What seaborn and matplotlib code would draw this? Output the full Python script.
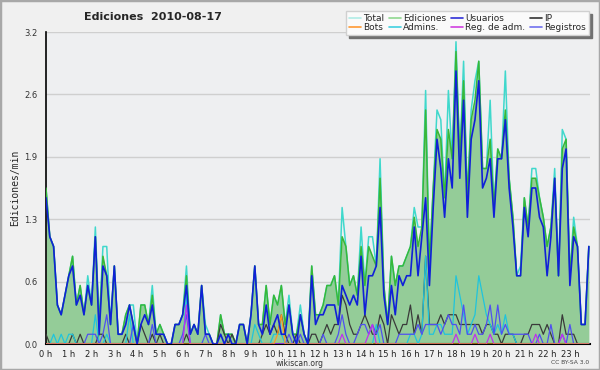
import numpy as np
import pandas as pd
import matplotlib
matplotlib.use('Agg')
import matplotlib.pyplot as plt
import seaborn as sns
from matplotlib.patches import Rectangle

# Ediciones/min, one value per 10 minutes (144 slots)
usuarios = [1.5, 1.1, 1.0, 0.4, 0.3, 0.5, 0.7, 0.8, 0.4, 0.5, 0.3, 0.6, 0.4, 1.1, 0.1, 0.8, 0.7, 0.2, 0.8, 0.1,
            0.1, 0.2, 0.4, 0.2, 0.0, 0.2, 0.3, 0.2, 0.4, 0.1, 0.1, 0.1, 0.0, 0.0, 0.2, 0.2, 0.3, 0.6, 0.1, 0.2,
            0.1, 0.6, 0.1, 0.1, 0.0, 0.0, 0.1, 0.0, 0.1, 0.0, 0.0, 0.2, 0.2, 0.0, 0.3, 0.8, 0.2, 0.1, 0.4, 0.1,
            0.2, 0.3, 0.1, 0.1, 0.4, 0.1, 0.0, 0.3, 0.1, 0.0, 0.7, 0.2, 0.3, 0.3, 0.4, 0.4, 0.4, 0.2, 0.6, 0.5,
            0.4, 0.5, 0.4, 0.9, 0.3, 0.7, 0.7, 0.8, 1.4, 0.5, 0.2, 0.6, 0.3, 0.7, 0.6, 0.7, 0.7, 1.2, 0.7, 1.1,
            1.5, 0.6, 1.4, 2.1, 1.8, 1.3, 1.9, 1.6, 2.8, 1.7, 2.5, 1.3, 2.1, 2.3, 2.7, 1.6, 1.7, 1.9, 1.3, 1.9,
            1.9, 2.3, 1.6, 1.2, 0.7, 0.7, 1.4, 1.1, 1.6, 1.6, 1.3, 1.2, 0.7, 1.1, 1.7, 0.7, 1.8, 2.0, 0.6, 1.1,
            1.0, 0.2, 0.2, 1.0]
ip = [0.1, 0.0, 0.0, 0.0, 0.0, 0.0, 0.0, 0.1, 0.0, 0.1, 0.0, 0.0, 0.0, 0.0, 0.1, 0.1, 0.0, 0.0, 0.0, 0.0,
      0.0, 0.1, 0.0, 0.0, 0.0, 0.2, 0.1, 0.0, 0.1, 0.0, 0.1, 0.0, 0.0, 0.0, 0.0, 0.0, 0.0, 0.1, 0.0, 0.0,
      0.0, 0.0, 0.0, 0.0, 0.0, 0.0, 0.2, 0.1, 0.0, 0.1, 0.0, 0.0, 0.0, 0.0, 0.0, 0.0, 0.0, 0.1, 0.2, 0.1,
      0.2, 0.1, 0.3, 0.1, 0.0, 0.0, 0.1, 0.0, 0.0, 0.0, 0.1, 0.1, 0.0, 0.1, 0.2, 0.1, 0.2, 0.2, 0.5, 0.4,
      0.2, 0.1, 0.1, 0.2, 0.3, 0.2, 0.1, 0.1, 0.3, 0.2, 0.0, 0.3, 0.2, 0.1, 0.2, 0.2, 0.4, 0.1, 0.3, 0.1,
      0.9, 0.2, 0.2, 0.2, 0.3, 0.2, 0.3, 0.3, 0.3, 0.2, 0.2, 0.2, 0.2, 0.2, 0.2, 0.1, 0.2, 0.2, 0.1, 0.1,
      0.0, 0.1, 0.1, 0.1, 0.0, 0.0, 0.1, 0.1, 0.2, 0.2, 0.2, 0.1, 0.2, 0.1, 0.0, 0.0, 0.3, 0.1, 0.1, 0.1,
      0.0, 0.0, 0.0, 0.0]
ediciones = [1.6, 1.1, 1.0, 0.4, 0.3, 0.5, 0.7, 0.9, 0.4, 0.6, 0.3, 0.6, 0.4, 1.1, 0.2, 0.9, 0.7, 0.2, 0.8, 0.1,
             0.1, 0.3, 0.4, 0.2, 0.0, 0.4, 0.4, 0.2, 0.5, 0.1, 0.2, 0.1, 0.0, 0.0, 0.2, 0.2, 0.3, 0.7, 0.1, 0.2,
             0.1, 0.6, 0.1, 0.1, 0.0, 0.0, 0.3, 0.1, 0.1, 0.1, 0.0, 0.2, 0.2, 0.0, 0.3, 0.8, 0.2, 0.2, 0.6, 0.2,
             0.5, 0.4, 0.6, 0.2, 0.4, 0.1, 0.1, 0.3, 0.1, 0.0, 0.8, 0.3, 0.3, 0.4, 0.6, 0.6, 0.7, 0.4, 1.1, 1.0,
             0.6, 0.7, 0.5, 1.0, 0.6, 1.0, 0.9, 0.8, 1.7, 0.6, 0.2, 0.9, 0.6, 0.8, 0.8, 0.9, 1.0, 1.3, 1.0, 1.2,
             2.4, 0.8, 1.6, 2.2, 2.1, 1.5, 2.2, 1.9, 3.0, 1.9, 2.7, 1.5, 2.3, 2.5, 2.9, 1.8, 1.8, 2.1, 1.4, 2.0,
             1.9, 2.4, 1.7, 1.3, 0.7, 0.7, 1.5, 1.2, 1.7, 1.7, 1.5, 1.3, 1.0, 1.2, 1.7, 0.7, 2.0, 2.1, 0.7, 1.2,
             1.0, 0.2, 0.2, 1.0]
total = [1.6, 1.1, 1.0, 0.4, 0.3, 0.5, 0.7, 0.9, 0.4, 0.6, 0.3, 0.7, 0.4, 1.2, 0.2, 1.0, 1.0, 0.2, 0.8, 0.1,
         0.1, 0.3, 0.4, 0.4, 0.0, 0.4, 0.4, 0.2, 0.6, 0.1, 0.2, 0.1, 0.0, 0.0, 0.2, 0.2, 0.3, 0.8, 0.1, 0.2,
         0.1, 0.6, 0.2, 0.1, 0.0, 0.0, 0.3, 0.1, 0.1, 0.1, 0.0, 0.2, 0.2, 0.0, 0.3, 0.8, 0.2, 0.2, 0.6, 0.2,
         0.5, 0.4, 0.6, 0.2, 0.5, 0.1, 0.1, 0.4, 0.1, 0.0, 0.8, 0.3, 0.3, 0.4, 0.6, 0.6, 0.7, 0.4, 1.4, 1.0,
         0.6, 0.7, 0.5, 1.2, 0.6, 1.1, 1.1, 0.8, 1.9, 0.6, 0.2, 0.9, 0.6, 0.8, 0.8, 0.9, 1.0, 1.4, 1.2, 1.2,
         2.6, 0.8, 1.6, 2.4, 2.3, 1.5, 2.6, 1.9, 3.1, 1.9, 2.9, 1.5, 2.4, 2.7, 2.9, 1.8, 1.8, 2.5, 1.4, 2.0,
         1.9, 2.8, 1.7, 1.3, 0.7, 0.8, 1.5, 1.2, 1.8, 1.8, 1.5, 1.3, 1.0, 1.2, 1.8, 0.7, 2.2, 2.1, 0.7, 1.3,
         1.0, 0.2, 0.2, 1.0]
admins = [0.0, 0.0, 0.1, 0.0, 0.1, 0.0, 0.1, 0.1, 0.0, 0.0, 0.0, 0.0, 0.0, 0.3, 0.0, 0.0, 0.1, 0.0, 0.0, 0.0,
          0.0, 0.0, 0.3, 0.0, 0.0, 0.0, 0.0, 0.0, 0.0, 0.0, 0.0, 0.0, 0.0, 0.0, 0.0, 0.0, 0.0, 0.5, 0.0, 0.0,
          0.0, 0.0, 0.0, 0.0, 0.0, 0.0, 0.0, 0.0, 0.0, 0.0, 0.0, 0.0, 0.0, 0.0, 0.0, 0.2, 0.1, 0.0, 0.0, 0.0,
          0.1, 0.1, 0.1, 0.0, 0.0, 0.0, 0.0, 0.0, 0.0, 0.0, 0.0, 0.0, 0.0, 0.0, 0.0, 0.0, 0.0, 0.0, 0.0, 0.0,
          0.0, 0.0, 0.0, 0.0, 0.0, 0.0, 0.0, 0.2, 0.0, 0.0, 0.0, 0.0, 0.0, 0.0, 0.0, 0.0, 0.1, 0.1, 0.0, 0.1,
          0.9, 0.1, 0.1, 0.2, 0.2, 0.1, 0.1, 0.1, 0.7, 0.5, 0.3, 0.1, 0.2, 0.3, 0.7, 0.5, 0.3, 0.2, 0.1, 0.2,
          0.1, 0.3, 0.1, 0.1, 0.0, 0.0, 0.0, 0.0, 0.0, 0.0, 0.0, 0.0, 0.0, 0.0, 0.0, 0.0, 0.0, 0.0, 0.0, 0.0,
          0.0, 0.0, 0.0, 0.0]
registros = [0.0, 0.0, 0.0, 0.0, 0.0, 0.0, 0.0, 0.0, 0.0, 0.0, 0.0, 0.1, 0.1, 0.1, 0.0, 0.1, 0.3, 0.0, 0.0, 0.0,
             0.0, 0.0, 0.0, 0.2, 0.0, 0.0, 0.0, 0.0, 0.2, 0.0, 0.0, 0.0, 0.0, 0.0, 0.0, 0.0, 0.1, 0.3, 0.0, 0.0,
             0.0, 0.0, 0.1, 0.0, 0.0, 0.0, 0.0, 0.0, 0.0, 0.0, 0.0, 0.0, 0.0, 0.0, 0.0, 0.0, 0.0, 0.0, 0.0, 0.0,
             0.0, 0.0, 0.0, 0.0, 0.1, 0.0, 0.0, 0.1, 0.0, 0.0, 0.0, 0.0, 0.0, 0.1, 0.0, 0.0, 0.0, 0.1, 0.3, 0.1,
             0.0, 0.0, 0.1, 0.2, 0.2, 0.1, 0.2, 0.1, 0.2, 0.0, 0.0, 0.0, 0.0, 0.1, 0.1, 0.1, 0.1, 0.1, 0.2, 0.1,
             0.2, 0.2, 0.2, 0.2, 0.1, 0.2, 0.3, 0.2, 0.2, 0.1, 0.4, 0.1, 0.1, 0.2, 0.1, 0.1, 0.2, 0.4, 0.1, 0.4,
             0.1, 0.2, 0.1, 0.1, 0.1, 0.1, 0.1, 0.1, 0.0, 0.0, 0.1, 0.0, 0.0, 0.2, 0.0, 0.0, 0.1, 0.0, 0.2, 0.0,
             0.0, 0.0, 0.0, 0.0]
reg_adm = [0.0] * 37 + [0.4] + [0.0] * 40 + [0.1, 0.0, 0.0, 0.0, 0.0, 0.0, 0.0, 0.1, 0.2] + [0.0] * 21 + \
          [0.1, 0.0, 0.0, 0.0, 0.0, 0.1, 0.0, 0.0, 0.0, 0.1] + [0.0] * 11 + [0.1] + [0.0] * 6 + [0.1] + [0.0] * 7
bots = [0.0] * 61 + [0.1, 0.3, 0.0] + [0.0] * 80

hour_labels = [f'{h} h' for h in range(24)]
y_ticks = [0.0, 0.64, 1.28, 1.92, 2.56, 3.2]

df = pd.DataFrame({'slot': np.arange(len(total)), 'Total': total, 'Ediciones': ediciones,
                   'Usuarios': usuarios, 'IP': ip, 'Bots': bots, 'Admins.': admins,
                   'Reg. de adm.': reg_adm, 'Registros': registros})

colors = {'Total': '#3fd8cc', 'Ediciones': '#38b838', 'Usuarios': '#1020d8', 'IP': '#3a3a3a',
          'Bots': '#ff9922', 'Admins.': '#20c4dc', 'Reg. de adm.': '#c030f0', 'Registros': '#5050f0'}
leg_colors = {'Total': '#b0ece6', 'Ediciones': '#90d890', 'Usuarios': '#3030d8', 'IP': '#333333',
              'Bots': '#ff9933', 'Admins.': '#40d0e0', 'Reg. de adm.': '#d040e0', 'Registros': '#7070ee'}

sns.set_style('white')
fig = plt.figure(figsize=(6, 3.7), dpi=100, facecolor='#f0f0f0')
ax = fig.add_axes([46 / 600, 26 / 370, 544 / 600, 312 / 370])
ax.set_facecolor('#eeeff1')

for y in y_ticks[1:]:
    ax.axhline(y, color='#cfcfcf', lw=1, zorder=0)

ax.fill_between(df['slot'], df['Ediciones'], color='#94cc98', lw=0, zorder=1)
sns.lineplot(data=df, x='slot', y='Total', color=colors['Total'], lw=1.1, ax=ax, zorder=2)
sns.lineplot(data=df, x='slot', y='Ediciones', color=colors['Ediciones'], lw=1.1, ax=ax, zorder=3)
for name in ['IP', 'Admins.', 'Registros', 'Reg. de adm.', 'Bots']:
    sns.lineplot(data=df, x='slot', y=name, color=colors[name], lw=0.9, ax=ax, zorder=4)
sns.lineplot(data=df, x='slot', y='Usuarios', color=colors['Usuarios'], lw=1.2, ax=ax, zorder=5)

ax.set_xlim(0, 143.3)
ax.set_ylim(0, 3.2)
ax.set_xticks(np.arange(0, 144, 6))
ax.set_xticklabels(hour_labels, fontsize=6, color='#222222')
ax.set_xticks(np.arange(0, 144, 1), minor=True)
ax.set_yticks(y_ticks)
ax.set_yticklabels([f'{v:.1f}' for v in y_ticks], fontsize=6, color='#333333')
ax.set_yticks(np.arange(0, 3.21, 0.16), minor=True)
ax.tick_params(axis='x', which='major', length=4, width=1, pad=0.5, color='black')
ax.tick_params(axis='x', which='minor', length=3, width=1, color='black')
ax.tick_params(axis='y', which='major', length=5, width=1, pad=1, color='black')
ax.tick_params(axis='y', which='minor', length=3, width=1, color='black')
ax.set_xlabel('')
ax.set_ylabel('Ediciones/min', family='DejaVu Sans Mono', fontsize=7, labelpad=3)
for side in ['top', 'right']:
    ax.spines[side].set_visible(False)
ax.spines['left'].set_color('black')
ax.spines['bottom'].set_color('black')
ax.spines['left'].set_linewidth(1.2)
ax.spines['bottom'].set_linewidth(1.5)

order = ['Total', 'Bots', 'Ediciones', 'Admins.', 'Usuarios', 'Reg. de adm.', 'IP', 'Registros']
handles = [plt.Line2D([], [], color=leg_colors[n], lw=1.2) for n in order]
leg = fig.legend(handles, order, loc='upper right', bbox_to_anchor=(589 / 600, 1 - 11 / 370),
                 ncol=4, fontsize=6.5, frameon=True, fancybox=False, shadow={'color': '#707070', 'alpha': 1},
                 handlelength=1.3, handletextpad=0.3, columnspacing=0.5, labelspacing=0.05,
                 borderpad=0.3, borderaxespad=0)
leg.get_frame().set_facecolor('#fafafa')
leg.get_frame().set_edgecolor('#d0d0d0')
leg.get_frame().set_linewidth(1)

fig.text(153 / 600, 1 - 17 / 370, 'Ediciones  2010-08-17', ha='center', va='center',
         fontsize=8, fontweight='bold')
fig.text(300 / 600, 1 - 364 / 370, 'wikiscan.org', ha='center', va='center', fontsize=5.5, color='#333333')
fig.text(589 / 600, 1 - 363 / 370, 'CC BY-SA 3.0', ha='right', va='center', fontsize=4.3, color='#444444')
fig.patches.append(Rectangle((0, 0), 1, 1, transform=fig.transFigure, fill=False,
                             edgecolor='#a8a8a8', lw=2.5, zorder=10))

plt.savefig('out.png', dpi=100, facecolor=fig.get_facecolor())
